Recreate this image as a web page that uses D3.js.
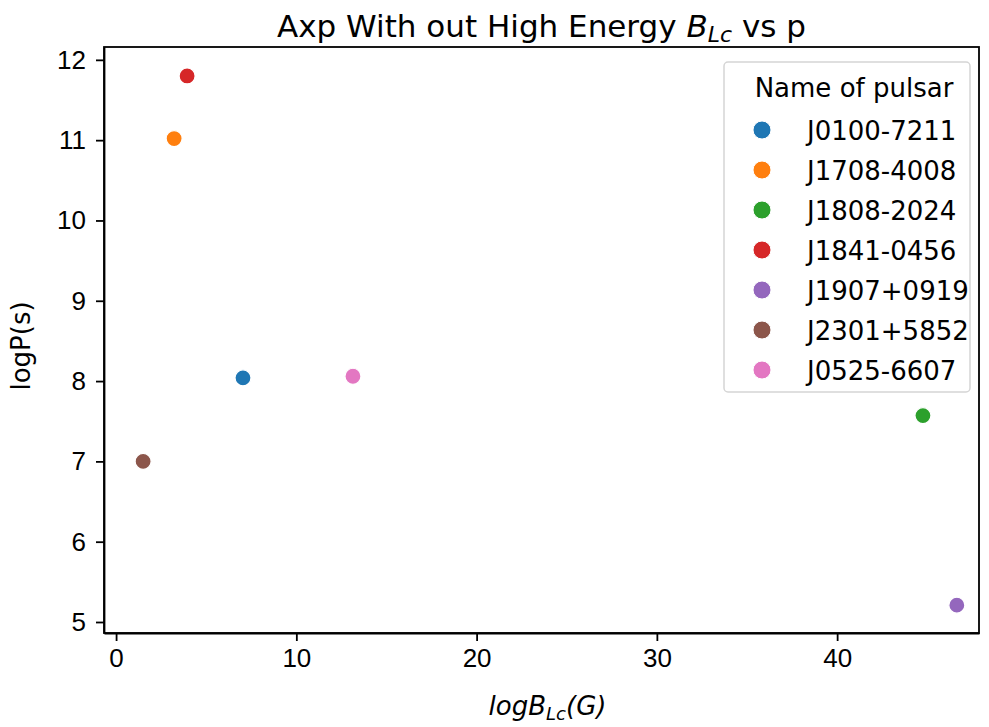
<!DOCTYPE html>
<html>
<head>
<meta charset="utf-8">
<script src="https://d3js.org/d3.v7.min.js"></script>
<style>
  body { margin: 0; background: #fff; }
  svg { font-family: "DejaVu Sans", sans-serif; }
  .axis text { font-size: 26px; fill: #000; }
  .axis path, .axis line { stroke: #000; stroke-width: 1.8; }
</style>
</head>
<body>
<svg id="chart" width="989" height="727"></svg>
<script>
// pulsar names, in legend order
const pulsars = ["J0100-7211", "J1708-4008", "J1808-2024", "J1841-0456", "J1907+0919", "J2301+5852", "J0525-6607"];
// log B_Lc (G)
const logBlc = [7.04, 3.22, 44.76, 3.94, 46.64, 1.50, 13.14];
// log P (s)
const logP = [8.04, 11.02, 7.57, 11.80, 5.21, 7.00, 8.06];
const colors = ["#1f77b4", "#ff7f0e", "#2ca02c", "#d62728", "#9467bd", "#8c564b", "#e377c2"];
const xTicks = [0, 10, 20, 30, 40];
const yTicks = [5, 6, 7, 8, 9, 10, 11, 12];

const svg = d3.select("#chart");
const mLeft = 104, mRight = 979, mTop = 47, mBottom = 633;

const x = d3.scaleLinear().domain([-0.67, 47.87]).range([mLeft, mRight]);
const y = d3.scaleLinear().domain([4.863, 12.16]).range([mBottom, mTop]);

svg.append("g")
    .attr("class", "axis")
    .attr("transform", "translate(0," + mBottom + ")")
    .call(d3.axisBottom(x).tickValues(xTicks).tickSize(8).tickPadding(8).tickSizeOuter(0));

svg.append("g")
    .attr("class", "axis")
    .attr("transform", "translate(" + mLeft + ",0)")
    .call(d3.axisLeft(y).tickValues(yTicks).tickSize(8).tickPadding(10).tickSizeOuter(0));

// frame
svg.append("rect")
    .attr("x", mLeft).attr("y", mTop)
    .attr("width", mRight - mLeft).attr("height", mBottom - mTop)
    .attr("fill", "none").attr("stroke", "#000").attr("stroke-width", 1.8);

// points
svg.append("g").selectAll("circle")
    .data(pulsars)
    .join("circle")
    .attr("cx", (d, i) => x(logBlc[i]))
    .attr("cy", (d, i) => y(logP[i]))
    .attr("r", 8)
    .attr("fill", (d, i) => colors[i])
    .attr("stroke", "#fff")
    .attr("stroke-width", 1.2);

// title
const title = svg.append("text")
    .attr("x", (mLeft + mRight) / 2).attr("y", 37)
    .attr("text-anchor", "middle")
    .style("font-size", "31px");
title.append("tspan").text("Axp With out High Energy ");
title.append("tspan").attr("font-style", "italic").text("B");
title.append("tspan").attr("font-style", "italic").attr("font-size", "22px").attr("dy", 5).text("Lc");
title.append("tspan").attr("dy", -5).text(" vs p");

// x label
const xl = svg.append("text")
    .attr("x", (mLeft + mRight) / 2 + 6).attr("y", 715)
    .attr("text-anchor", "middle")
    .attr("font-style", "italic")
    .style("font-size", "26px");
xl.append("tspan").text("logB");
xl.append("tspan").attr("font-size", "18px").attr("dy", 5).text("Lc");
xl.append("tspan").attr("dy", -5).text("(G)");

// y label
svg.append("text")
    .attr("transform", "translate(30,346) rotate(-90)")
    .attr("text-anchor", "middle")
    .style("font-size", "26px")
    .text("logP(s)");

// legend
const lg = svg.append("g");
lg.append("rect")
    .attr("x", 724).attr("y", 62).attr("width", 246).attr("height", 330)
    .attr("rx", 4)
    .attr("fill", "#fff").attr("fill-opacity", 0.8)
    .attr("stroke", "#d5d5d5").attr("stroke-width", 1.5);
lg.append("text")
    .attr("x", 854).attr("y", 97)
    .attr("text-anchor", "middle")
    .style("font-size", "26px")
    .text("Name of pulsar");
pulsars.forEach((p, i) => {
  const yy = 130 + i * 40;
  lg.append("circle")
      .attr("cx", 762).attr("cy", yy).attr("r", 9)
      .attr("fill", colors[i]).attr("stroke", "#fff");
  lg.append("text")
      .attr("x", 807).attr("y", yy + 10)
      .style("font-size", "26px")
      .text(p);
});
</script>
</body>
</html>
